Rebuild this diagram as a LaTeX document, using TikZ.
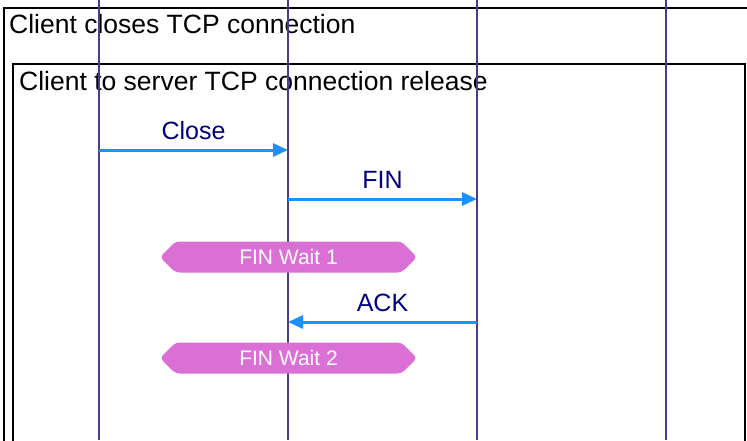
\documentclass[tikz,border=0pt]{standalone}
\usepackage{fontspec}
\setmainfont{Liberation Sans}
\usetikzlibrary{arrows.meta,shapes.symbols}
\definecolor{lifeline}{RGB}{72,61,139}
\definecolor{msgblue}{RGB}{30,144,255}
\definecolor{msgtext}{RGB}{0,0,128}
\definecolor{stateorchid}{RGB}{218,112,214}

\begin{document}
\begin{tikzpicture}[x=1pt,y=-1pt,
    frame/.style={draw=black,line width=2.5pt},
    frametitle/.style={anchor=base west,inner sep=0pt,font=\fontsize{26.5}{30}\selectfont},
    lifeline/.style={draw=lifeline,line width=1.8pt},
    msg/.style={draw=msgblue,line width=3pt,-{Triangle[length=15pt,width=13pt]}},
    msglabel/.style={text=msgtext,anchor=base,inner sep=0pt,yshift=11pt,font=\fontsize{25}{30}\selectfont},
    state/.style={signal,signal to=west and east,signal pointer angle=90,
        fill=stateorchid,text=white,inner sep=0pt,rounded corners=4pt,
        minimum width=257pt,minimum height=31pt,font=\fontsize{21}{25}\selectfont}]
    \useasboundingbox (0,0) rectangle (747,440);
    \clip (0,0) rectangle (747,440);
    % Frames
    \draw[frame] (4,460) -- (4,8) -- (760,8);
    \draw[frame] (13,460) -- (13,64) -- (745,64) -- (745,460);
    \node[frametitle] (closes) at (9,33) {Client closes TCP connection};
    \node[frametitle] (release) at (19,90) {Client to server TCP connection release};
    % Lifelines
    \foreach \i/\x in {1/99,2/288,3/477,4/666} {
        \coordinate (top\i) at (\x,0);
        \coordinate (bot\i) at (\x,440);
        \draw[lifeline] (top\i) -- (bot\i);
    }
    % Messages
    \coordinate (close-from) at (top1 |- 0,150);
    \coordinate (close-to) at (top2 |- 0,150);
    \coordinate (fin-from) at (top2 |- 0,199);
    \coordinate (fin-to) at (top3 |- 0,199);
    \coordinate (ack-from) at (top3 |- 0,322);
    \coordinate (ack-to) at (top2 |- 0,322);
    \draw[msg] (close-from) -- (close-to) node[msglabel,midway] (close) {Close};
    \draw[msg] (fin-from) -- (fin-to) node[msglabel,midway] (fin) {FIN};
    \draw[msg] (ack-from) -- (ack-to) node[msglabel,midway] (ack) {ACK};
    % States
    \node[state] (wait1) at (288.5,257) {FIN Wait 1};
    \node[state] (wait2) at (288.5,358) {FIN Wait 2};
\end{tikzpicture}
\end{document}
